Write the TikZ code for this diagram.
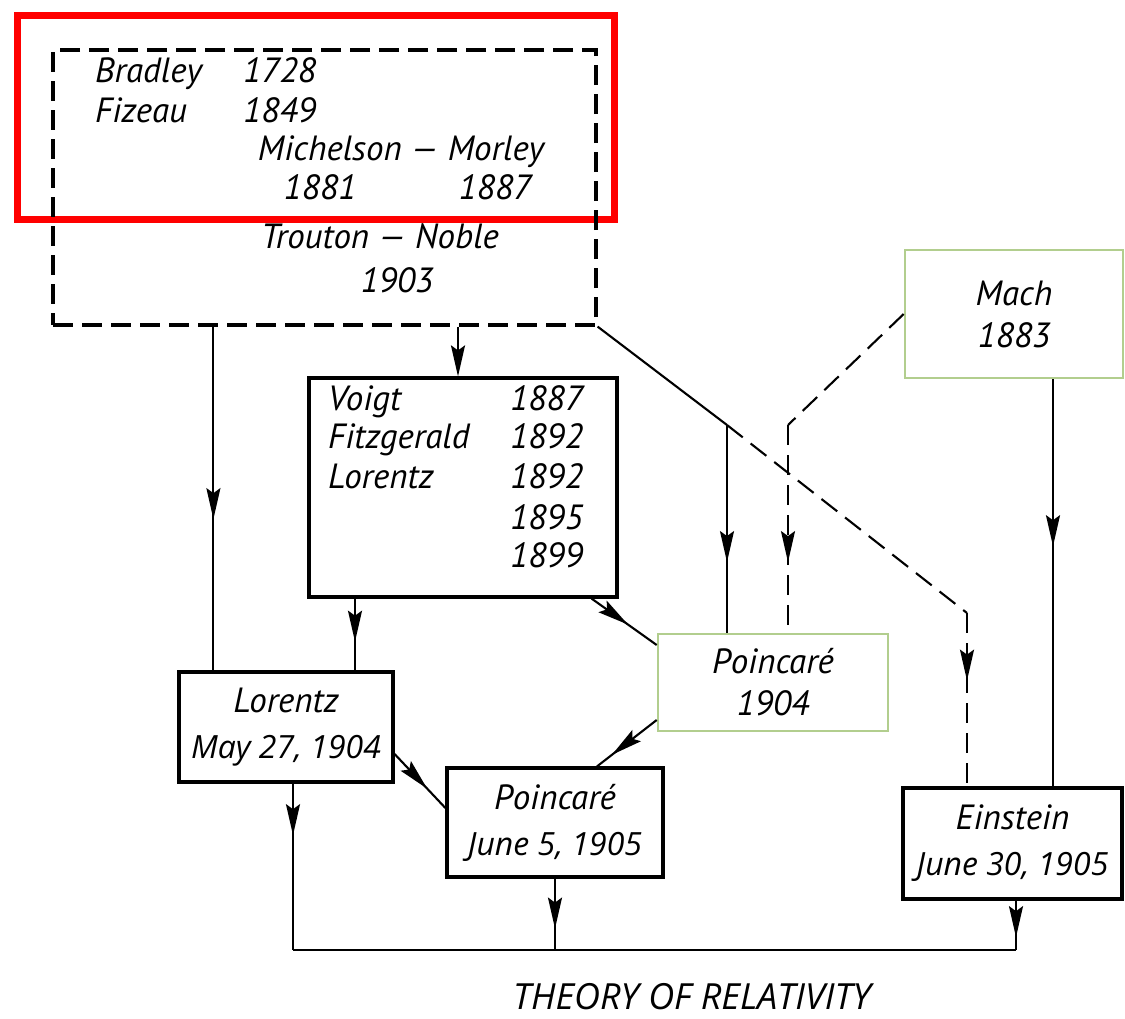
\documentclass[tikz,border=0pt]{standalone}
\usepackage{fontspec}
\setmainfont{PT Sans}
\newfontfamily\myr{Open Sans}
\usetikzlibrary{arrows.meta,decorations.markings,calc}
\definecolor{boxgreen}{RGB}{178,206,142}
\begin{document}
\begin{tikzpicture}[x=1pt,y=-1pt,
  >={Stealth[length=31pt,width=14pt,inset=5pt]},
  hand/.style={font=\fontsize{35}{46}\selectfont\itshape, inner sep=0pt},
  dbox/.style={draw, line width=3.2pt, dash pattern=on 20pt off 9pt, inner sep=0pt},
  bbox/.style={draw, line width=3.2pt, inner sep=0pt, align=center, font=\fontsize{35}{46}\selectfont\itshape},
  gbox/.style={draw=boxgreen, line width=2.6pt, inner sep=0pt, align=center, font=\fontsize{35}{42}\selectfont\itshape},
  conn/.style={line width=2.1pt},
  dconn/.style={line width=2.1pt, dash pattern=on 20pt off 10pt},
  midarr/.style={postaction={decorate}, decoration={markings, mark=at position #1 with {\arrow{>}}}}
]
\useasboundingbox (0,0) rectangle (1125,1018);

% highlight frame
\draw[red, line width=7pt] (17,15) rectangle (614,219);

% dashed experiments box
\node[dbox, minimum width=543pt, minimum height=275pt] (dash) at (324.5,187.5) {};
\node[hand, anchor=mid west] (brad) at (95,80) {Bradley};
\node[hand, anchor=mid west] (bradY) at (243,80) {1728};
\node[hand, anchor=mid west] (fiz) at (95,120) {Fizeau};
\node[hand, anchor=mid west] (fizY) at (243,120) {1849};
\node[hand, anchor=mid] (mm) at (401,158) {Michelson — Morley};
\node[hand, anchor=mid] (mmA) at (320,197) {1881};
\node[hand, anchor=mid] (mmB) at (495,197) {1887};
\node[hand, anchor=mid] (tn) at (380,246) {Trouton — Noble};
\node[hand, anchor=mid] (tnY) at (397,290) {1903};

% Mach
\node[gbox, minimum width=218pt, minimum height=128pt] (mach) at (1014,314) {Mach\\1883};

% Voigt box
\node[bbox, minimum width=308pt, minimum height=219pt] (voigt) at (463,487.5) {};
\node[hand, anchor=mid west] (v1) at (328,408) {Voigt};
\node[hand, anchor=mid west] (v2) at (328,446) {Fitzgerald};
\node[hand, anchor=mid west] (v3) at (328,486) {Lorentz};
\node[hand, anchor=mid west] (y1) at (510,408) {1887};
\node[hand, anchor=mid west] (y2) at (510,446) {1892};
\node[hand, anchor=mid west] (y3) at (510,486) {1892};
\node[hand, anchor=mid west] (y4) at (510,527) {1895};
\node[hand, anchor=mid west] (y5) at (510,565) {1899};

% result boxes
\node[bbox, minimum width=214pt, minimum height=110pt] (lor) at (286,727) {Lorentz\\{\fontsize{32}{46}\selectfont\myr\itshape May 27, 1904}};
\node[gbox, minimum width=230pt, minimum height=97pt] (p04) at (773,682.5) {Poincaré\\1904};
\node[bbox, minimum width=216pt, minimum height=109pt] (p05) at (555,822.5) {Poincaré\\{\fontsize{32}{46}\selectfont\myr\itshape June 5, 1905}};
\node[bbox, minimum width=219pt, minimum height=111pt] (ein) at (1012.5,843.5) {Einstein\\{\fontsize{32}{46}\selectfont\myr\itshape June 30, 1905}};

\node[font=\fontsize{36}{40}\selectfont\myr\itshape, inner sep=0pt, anchor=base] (title) at (692,1009) {THEORY OF RELATIVITY};

% connectors
\coordinate (base) at (0,950);
\coordinate (bend) at (727,425);
\coordinate (dend) at (967,613);
\coordinate (mbend) at (788,425);

\draw[conn, midarr=0.56] ([xshift=162pt]dash.south west) coordinate (c1) -- (c1 |- lor.north);
\draw[conn, ->] ([xshift=133.5pt]dash.south) coordinate (c2) -- (c2 |- voigt.north);
\draw[conn] (dash.south east) -- (bend);
\draw[conn, midarr=0.66] (bend) -- (bend |- p04.north);
\draw[dconn] (bend) -- (dend);
\draw[dconn, midarr=0.39] (dend) -- (dend |- ein.north);
\draw[dconn] (mach.west) -- (mbend);
\draw[dconn, midarr=0.66] (mbend) -- (mbend |- p04.north);
\draw[conn, midarr=0.41] ([xshift=39pt]mach.south) coordinate (c6) -- (c6 |- ein.north);
\draw[conn, midarr=0.60] ([xshift=-108pt]voigt.south) coordinate (c7) -- (c7 |- lor.north);
\draw[conn, midarr=0.56] ([xshift=-27pt]voigt.south east) -- ([yshift=37.5pt]p04.west);
\draw[conn, midarr=0.75] ([yshift=-37.5pt]p04.west) -- ([xshift=42pt]p05.north);
\draw[conn, midarr=0.64] ([yshift=-27pt]lor.east) -- ([yshift=14.5pt]p05.west);
\draw[conn, midarr=0.31] ([xshift=7pt]lor.south) coordinate (l1) -- (l1 |- base);
\draw[conn, midarr=0.70] (p05.south) -- (p05.south |- base);
\draw[conn, midarr=0.74] ([xshift=3.5pt]ein.south) coordinate (e1) -- (e1 |- base);
\draw[conn] (l1 |- base) -- (e1 |- base);
\end{tikzpicture}
\end{document}
